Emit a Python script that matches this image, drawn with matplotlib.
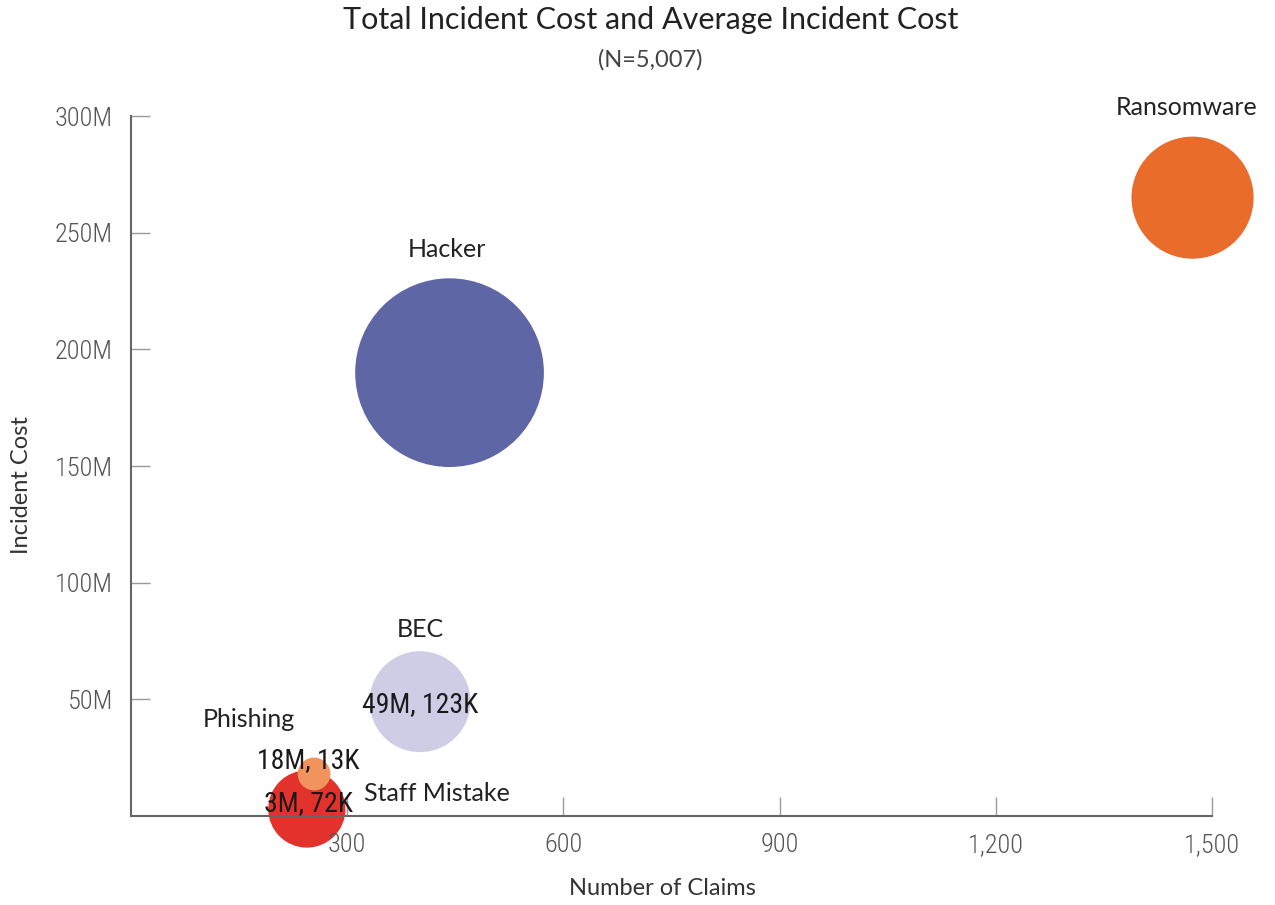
import matplotlib.pyplot as plt
from matplotlib import font_manager
from matplotlib.ticker import FuncFormatter

# incident categories
categories = ["Ransomware", "Hacker", "BEC", "Staff Mistake", "Phishing"]
claims = [1473, 442, 401, 244, 254]
total_cost_m = [265, 190, 49, 3, 18]          # millions
avg_cost_k = [180, 430, 123, 72, 13]          # thousands
show_values = [False, False, True, True, True]
colors = ["#EA6C2A", "#5F66A6", "#CFCDE6", "#E3312B", "#F0935C"]

x_ticks = [300, 600, 900, 1200, 1500]
y_ticks = [50, 100, 150, 200, 250, 300]


def pick(names):
    have = {f.name for f in font_manager.fontManager.ttflist}
    for n in names:
        if n in have:
            return n
    return "DejaVu Sans"


narrow = pick(["Roboto Condensed", "Liberation Sans Narrow", "DejaVu Sans"])
plain = pick(["Lato", "Open Sans", "DejaVu Sans"])

fig = plt.figure(figsize=(12.75, 9.05), dpi=100)
ax = fig.add_axes([131 / 1275, 1 - 816 / 905, 1081 / 1275, 700 / 905])

# bubble area scales with average cost
k = 9.1 * 0.72  # diameter in points per sqrt(K)
sizes = [(k * a ** 0.5) ** 2 for a in avg_cost_k]

ax.scatter(claims, [c * 1e6 for c in total_cost_m], s=sizes, c=colors,
           linewidths=0, clip_on=False, zorder=1)

# name label offsets (points) from bubble centre
name_off = {
    "Ransomware": (-4, 65),
    "Hacker": (-2, 89),
    "BEC": (0, 52),
    "Staff Mistake": (94, 11),
    "Phishing": (-47, 39),
}
value_off = {
    "BEC": (0, -2),
    "Staff Mistake": (1, 4),
    "Phishing": (-4, 10),
}

for i, name in enumerate(categories):
    x, y = claims[i], total_cost_m[i] * 1e6
    ax.annotate(name, (x, y), xytext=name_off[name], textcoords="offset points",
                ha="center", va="center", fontsize=18, color="#222222",
                family=plain, annotation_clip=False, zorder=5)
    if show_values[i]:
        ax.annotate(f"{total_cost_m[i]}M, {avg_cost_k[i]}K", (x, y),
                    xytext=value_off[name], textcoords="offset points",
                    ha="center", va="center", fontsize=20, color="#1a1a1a",
                    family=narrow, annotation_clip=False, zorder=5)

ax.set_xlim(0, 1500)
ax.set_ylim(0, 300e6)
ax.set_xticks(x_ticks)
ax.set_yticks([v * 1e6 for v in y_ticks])
ax.xaxis.set_major_formatter(FuncFormatter(lambda v, p: f"{int(v):,}"))
ax.yaxis.set_major_formatter(FuncFormatter(lambda v, p: f"{int(v / 1e6)}M"))

for side in ["top", "right"]:
    ax.spines[side].set_visible(False)
for side in ["left", "bottom"]:
    ax.spines[side].set_color("#666666")
    ax.spines[side].set_linewidth(1.5)
    ax.spines[side].set_zorder(3)

ax.tick_params(axis="both", direction="in", length=14, width=1, color="#999999",
               labelsize=19, labelcolor="#555555")
ax.tick_params(axis="x", pad=12)
ax.tick_params(axis="y", pad=13)
for lbl in ax.get_xticklabels() + ax.get_yticklabels():
    lbl.set_family(narrow)
    lbl.set_fontweight("light")
    lbl.set_zorder(4)

fig.text(662 / 1275, 1 - 888 / 905, "Number of Claims", ha="center", va="center",
         fontsize=17, color="#333333", family=plain)
fig.text(22 / 1275, 1 - 485 / 905, "Incident Cost", ha="center", va="center",
         rotation=90, fontsize=17, color="#333333", family=plain)

fig.text(651 / 1275, 1 - 20 / 905, "Total Incident Cost and Average Incident Cost",
         ha="center", va="center", fontsize=22, color="#222222", family=plain)
fig.text(650 / 1275, 1 - 60 / 905, "(N=5,007)", ha="center", va="center",
         fontsize=17, color="#444444", family=plain)

fig.savefig("out.png", dpi=100)
